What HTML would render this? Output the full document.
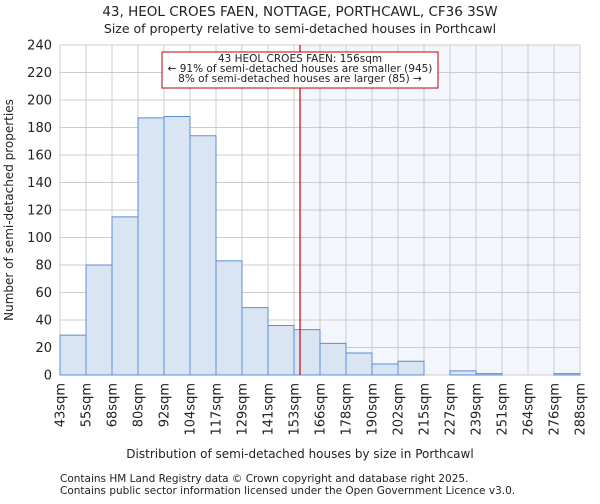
<!DOCTYPE html>
<html><head><meta charset="utf-8"><style>
body{margin:0;background:#fff;font-family:"DejaVu Sans","Liberation Sans",sans-serif;}
svg text{font-family:"DejaVu Sans","Liberation Sans",sans-serif;fill:#222;}
</style></head><body>
<svg id="chart" width="600" height="500">
<text x="300" y="16" font-size="13.5" text-anchor="middle">43, HEOL CROES FAEN, NOTTAGE, PORTHCAWL, CF36 3SW</text>
<text x="300" y="33" font-size="12.5" text-anchor="middle">Size of property relative to semi-detached houses in Porthcawl</text>
<g id="plot"></g>
<text x="300" y="458" font-size="12" text-anchor="middle">Distribution of semi-detached houses by size in Porthcawl</text>
<text transform="translate(13,210) rotate(-90)" font-size="12" text-anchor="middle">Number of semi-detached properties</text>
<text x="60" y="482" font-size="10.5">Contains HM Land Registry data © Crown copyright and database right 2025.</text>
<text x="60" y="494" font-size="10.5">Contains public sector information licensed under the Open Government Licence v3.0.</text>
</svg>
<script>
const binLabels=["43sqm","55sqm","68sqm","80sqm","92sqm","104sqm","117sqm","129sqm","141sqm","153sqm","166sqm","178sqm","190sqm","202sqm","215sqm","227sqm","239sqm","251sqm","264sqm","276sqm","288sqm"];
const binEdges=[43,55,68,80,92,104,117,129,141,153,166,178,190,202,215,227,239,251,264,276,288];
const counts=[29,80,115,187,188,174,83,49,36,33,23,16,8,10,0,3,1,0,0,1];
const yTicks=[0,20,40,60,80,100,120,140,160,180,200,220,240];
const propertySize=156;
const X0=60,X1=580,Y0=375,Y1=45,YMAX=240;
const NS="http://www.w3.org/2000/svg";
const g=document.getElementById('plot');
const bw=(X1-X0)/counts.length;
function xi(i){return X0+i*bw;}
function xv(v){for(let i=0;i<binEdges.length-1;i++){if(v<=binEdges[i+1])return xi(i)+bw*(v-binEdges[i])/(binEdges[i+1]-binEdges[i]);}return X1;}
function y(v){return Y0-(v/YMAX)*(Y0-Y1);}
function mk(t,a){const e=document.createElementNS(NS,t);for(const k in a)e.setAttribute(k,a[k]);g.appendChild(e);return e;}
const rx=xv(propertySize);
let e=mk('rect',{x:rx,y:Y1,width:X1-rx,height:Y0-Y1,fill:'#f3f6fd'});


yTicks.forEach(t=>{
 let l=mk('line',{x1:X0,x2:X1,y1:y(t),y2:y(t),stroke:'#cccccc','stroke-width':1});
 
 
 let tx=mk('text',{x:X0-8,y:y(t)+4.5,'font-size':13,'text-anchor':'end'});tx.textContent=t;
 
 
});
binLabels.forEach((s,i)=>{
 let l=mk('line',{x1:xi(i),x2:xi(i),y1:Y1,y2:Y0,stroke:'#cccccc','stroke-width':1});
 
 
 let tx=mk('text',{transform:`translate(${xi(i)+4.5},${Y0+8}) rotate(-90)`,'font-size':13,'text-anchor':'end'});tx.textContent=s;
 
 
});
counts.forEach((c,i)=>{
 let r=mk('rect',{x:xi(i),y:y(c),width:bw,height:Y0-y(c),fill:'#dae5f4',stroke:'#5b8dd6','stroke-width':1});
 
 
});
e=mk('line',{x1:rx,x2:rx,y1:Y1,y2:Y0,stroke:'#d00000','stroke-width':1.2});


e=mk('rect',{x:162,y:52,width:276,height:36,fill:'#fff',stroke:'#c00000','stroke-width':1});


["43 HEOL CROES FAEN: 156sqm","← 91% of semi-detached houses are smaller (945)","8% of semi-detached houses are larger (85) →"].forEach((s,i)=>{
 let t=mk('text',{x:300,y:62+i*10,'font-size':10.5,'text-anchor':'middle'});t.textContent=s;
 
 
});
</script>
</body></html>
